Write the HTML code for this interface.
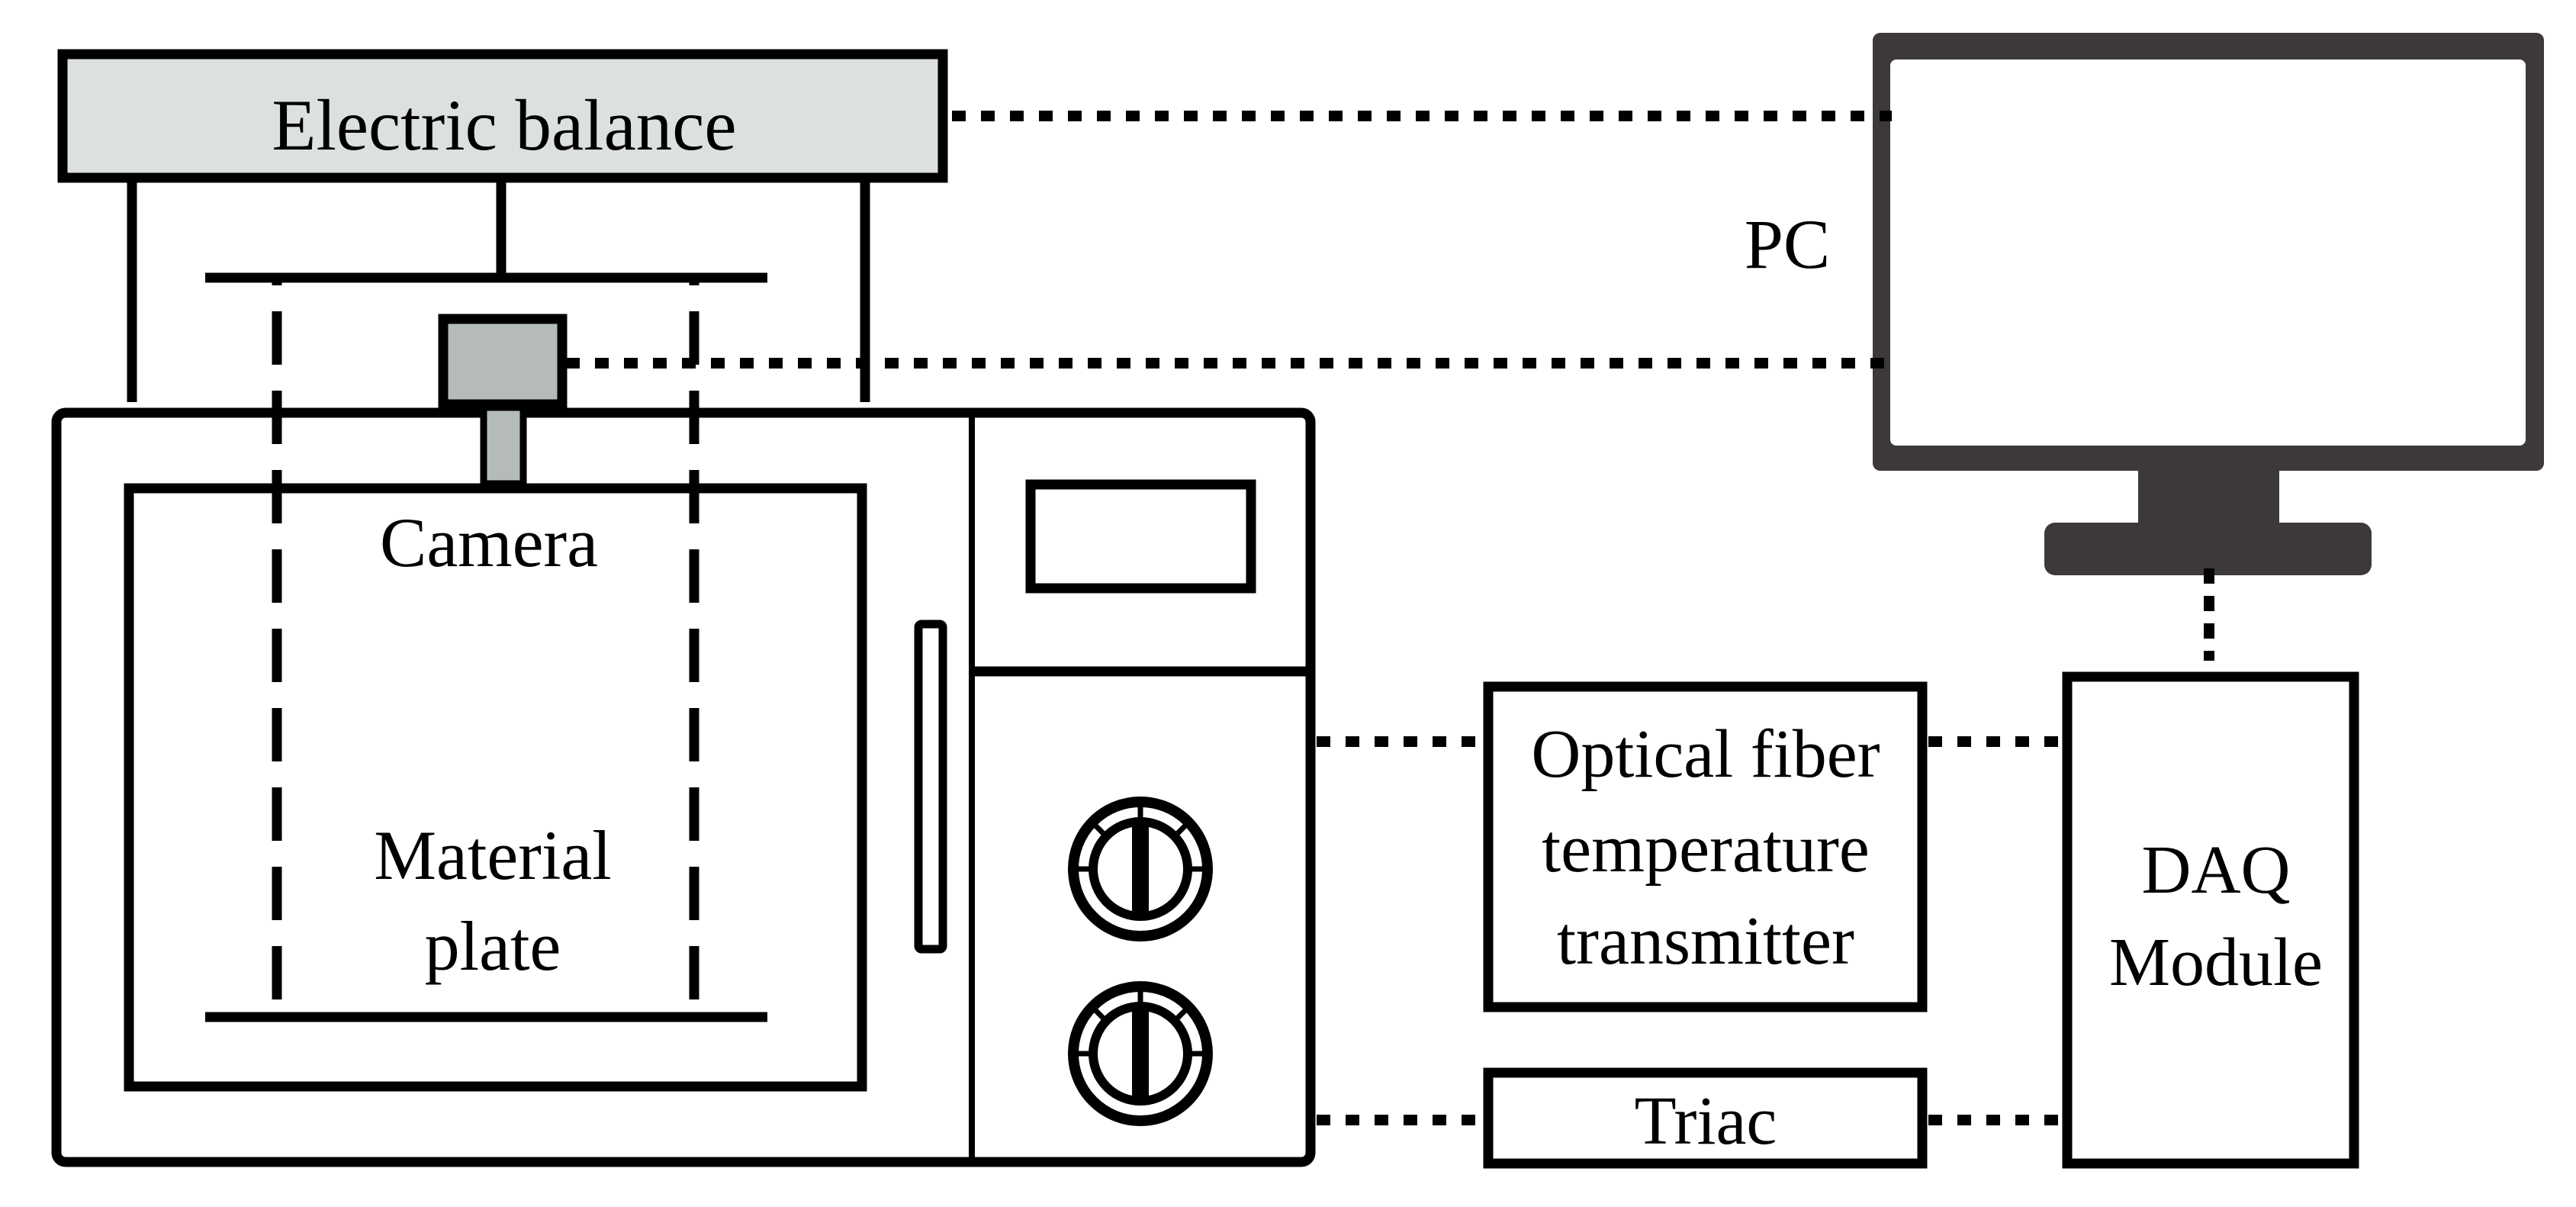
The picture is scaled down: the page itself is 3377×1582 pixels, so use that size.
<!DOCTYPE html>
<html><head><meta charset="utf-8"><style>
html,body{margin:0;padding:0;background:#fff;}
svg{display:block;}
text{font-family:"Liberation Serif",serif;fill:#000;}
</style></head><body>
<svg width="3377" height="1582" viewBox="0 0 3377 1582" xmlns="http://www.w3.org/2000/svg">
<!-- Electric balance -->
<rect x="82" y="71" width="1154" height="162" fill="#dde0e0" stroke="#000" stroke-width="13"/>
<text x="661" y="196" font-size="95" text-anchor="middle">Electric balance</text>
<!-- legs -->
<g stroke="#000" stroke-width="13" fill="none">
<line x1="173" y1="238" x2="173" y2="527"/>
<line x1="1134" y1="238" x2="1134" y2="527"/>
<line x1="657" y1="238" x2="657" y2="360"/>
<line x1="269" y1="364" x2="1006" y2="364"/>
</g>
<!-- microwave -->
<rect x="74" y="541" width="1644" height="982" rx="12" fill="none" stroke="#000" stroke-width="13"/>
<line x1="1274" y1="541" x2="1274" y2="1523" stroke="#000" stroke-width="8"/>
<line x1="1274" y1="880" x2="1718" y2="880" stroke="#000" stroke-width="13"/>
<rect x="169" y="640" width="961" height="784" fill="none" stroke="#000" stroke-width="13"/>
<g stroke="#000" stroke-width="13" fill="none" stroke-dasharray="70 34">
<line x1="363" y1="1310" x2="363" y2="368"/>
<line x1="910" y1="1310" x2="910" y2="368"/>
</g>
<line x1="269" y1="1333" x2="1006" y2="1333" stroke="#000" stroke-width="13"/>
<text x="641" y="742" font-size="92" text-anchor="middle">Camera</text>
<text x="646" y="1152" font-size="92" text-anchor="middle">Material</text>
<text x="646" y="1271" font-size="92" text-anchor="middle">plate</text>
<rect x="1351" y="635" width="289" height="136" fill="none" stroke="#000" stroke-width="13"/>
<rect x="1204" y="818" width="32" height="426" rx="4" fill="none" stroke="#000" stroke-width="11"/>
<!-- camera -->
<rect x="634" y="534" width="52" height="100" fill="#b5bbbb" stroke="#000" stroke-width="9"/>
<rect x="581" y="418" width="156" height="112" fill="#b5bbbb" stroke="#000" stroke-width="13"/>
<!-- knobs -->
<g id="k1" fill="none" stroke="#000">
<circle cx="1495" cy="1139" r="88" stroke-width="14"/>
<circle cx="1495" cy="1139" r="62" stroke-width="12"/>
<line x1="1495" y1="1077" x2="1495" y2="1201" stroke-width="22"/>
<line x1="1495" y1="1058" x2="1495" y2="1080" stroke-width="7"/>
<line x1="1414" y1="1139" x2="1436" y2="1139" stroke-width="7"/>
<line x1="1554" y1="1139" x2="1576" y2="1139" stroke-width="7"/>
<line x1="1436" y1="1082" x2="1451" y2="1097" stroke-width="7"/>
<line x1="1554" y1="1082" x2="1539" y2="1097" stroke-width="7"/>
</g>
<use href="#k1" transform="translate(0,242)"/>
<!-- Optical fiber box -->
<rect x="1951" y="900" width="569" height="420" fill="none" stroke="#000" stroke-width="13"/>
<text x="2236" y="1018" font-size="90" text-anchor="middle">Optical fiber</text>
<text x="2236" y="1142" font-size="90" text-anchor="middle">temperature</text>
<text x="2236" y="1263" font-size="90" text-anchor="middle">transmitter</text>
<!-- Triac -->
<rect x="1951" y="1406" width="569" height="119" fill="none" stroke="#000" stroke-width="13"/>
<text x="2236" y="1499" font-size="90" text-anchor="middle">Triac</text>
<!-- DAQ -->
<rect x="2710" y="887" width="376" height="638" fill="none" stroke="#000" stroke-width="13"/>
<text x="2905" y="1170" font-size="90" text-anchor="middle">DAQ</text>
<text x="2905" y="1291" font-size="90" text-anchor="middle">Module</text>
<!-- PC -->
<rect x="2455" y="43" width="880" height="574" rx="10" fill="#3d3939"/>
<rect x="2478" y="78" width="833" height="506" rx="8" fill="#fff"/>
<rect x="2803" y="610" width="185" height="80" fill="#3d3939"/>
<rect x="2680" y="685" width="429" height="69" rx="14" fill="#3d3939"/>
<text x="2343" y="351" font-size="92" text-anchor="middle">PC</text>
<!-- dotted connectors -->
<g stroke="#000" stroke-width="14" fill="none" stroke-dasharray="18 20">
<line x1="1248" y1="152" x2="2480" y2="152"/>
<line x1="742" y1="476" x2="2480" y2="476"/>
<line x1="1726" y1="972" x2="1945" y2="972"/>
<line x1="2528" y1="972" x2="2704" y2="972"/>
<line x1="1726" y1="1468" x2="1945" y2="1468"/>
<line x1="2528" y1="1468" x2="2704" y2="1468"/>
</g>
<line x1="2896" y1="745" x2="2896" y2="866" stroke="#000" stroke-width="14" stroke-dasharray="20 16"/>
</svg>
</body></html>
